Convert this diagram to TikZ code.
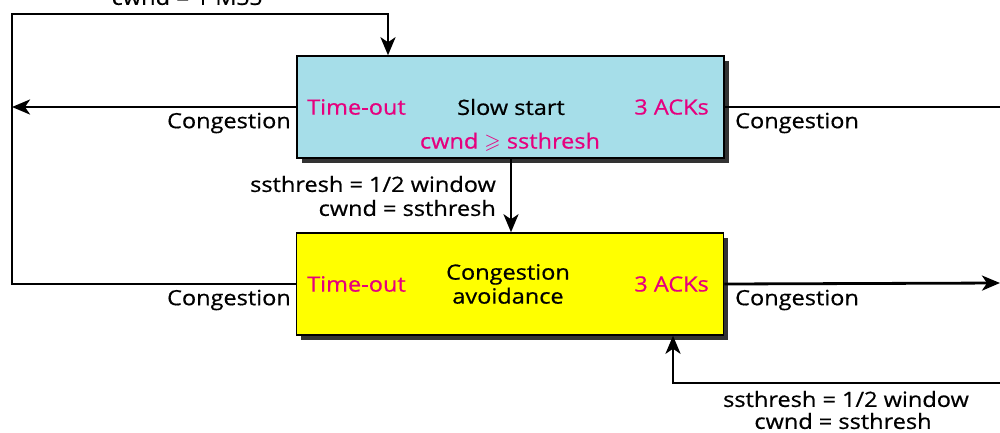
\documentclass[tikz,border=0pt]{standalone}
\usepackage{fontspec}
\usepackage{amssymb}
\setmainfont{Open Sans}[FakeStretch=1.12, FakeBold=0.6]
\usetikzlibrary{arrows.meta,shadows}
\definecolor{boxcyan}{RGB}{166,222,233}
\definecolor{boxyellow}{RGB}{255,255,0}
\definecolor{pinktxt}{RGB}{230,0,126}
\tikzset{
  statebox/.style={draw=black, line width=1.5pt, minimum width=427pt, minimum height=102pt, inner sep=0pt,
    drop shadow={shadow xshift=4.5pt, shadow yshift=-4.5pt, fill=black!80, opacity=1}},
  conn/.style={line width=2.8pt, draw=black},
  arr/.style={conn, -{Stealth[length=18pt,width=15pt,inset=5pt]}},
  lbl/.style={font=\fontsize{21}{25}\selectfont, inner sep=0pt, text=black},
  pink/.style={lbl, text=pinktxt},
}
\begin{document}
\begin{tikzpicture}[x=1pt,y=-1pt]
\useasboundingbox (0,0) rectangle (1000,432);
% boxes
\node[statebox, fill=boxcyan] (ss) at (510.5,107) {};
\node[statebox, fill=boxyellow] (ca) at (510,284) {};
% box texts
\node[pink, anchor=west] (ssto) at (307,107) {Time-out};
\node[lbl] (sst) at (511,107) {Slow start};
\node[pink, anchor=east] (ssack) at (709,107) {3 ACKs};
\node[pink] (sscond) at (510,142) {cwnd $\geqslant$ ssthresh};
\node[pink, anchor=west] (cato) at (307,284) {Time-out};
\node[lbl, align=center] (cat) at (508,284) {Congestion\\[-1pt]avoidance};
\node[pink, anchor=east] (caack) at (709,284) {3 ACKs};
% coordinates
\coordinate (c1) at (12,14);
\coordinate (c2) at (388,14);
\coordinate (l1) at (12,107);
\coordinate (r1) at (1001,107);
\coordinate (r2) at (1000,283);
\coordinate (b1) at (1001,383);
\coordinate (b2) at (673,383);
% connectors
\draw[arr] (ca.west) -| (c1) -- (c2) -- (c2 |- ss.north);
\draw[arr] (ss.west) -- (l1);
\draw[conn] (ss.east) -- (r1);
\draw[arr] (ca.east) -- (r2);
\draw[arr] (ss.south -| 511,0) -- (ca.north -| 511,0);
\draw[arr] (b1) -- (b2) -- (b2 |- ca.south);
% labels
\node[lbl] (mss) at (187,-3) {cwnd = 1 MSS};
\node[lbl, anchor=east] (congl1) at (291,123) {Congestion};
\node[lbl, anchor=west] (congr1) at (735,123) {Congestion};
\node[lbl, anchor=east] (congl2) at (291,300) {Congestion};
\node[lbl, anchor=west] (congr2) at (735,300) {Congestion};
\node[lbl, anchor=east] (mid1) at (496,184) {ssthresh = 1/2 window};
\node[lbl, anchor=east] (mid2) at (496,208) {cwnd = ssthresh};
\node[lbl] (bot1) at (846,399) {ssthresh = 1/2 window};
\node[lbl] (bot2) at (843,421) {cwnd = ssthresh};
\end{tikzpicture}
\end{document}
